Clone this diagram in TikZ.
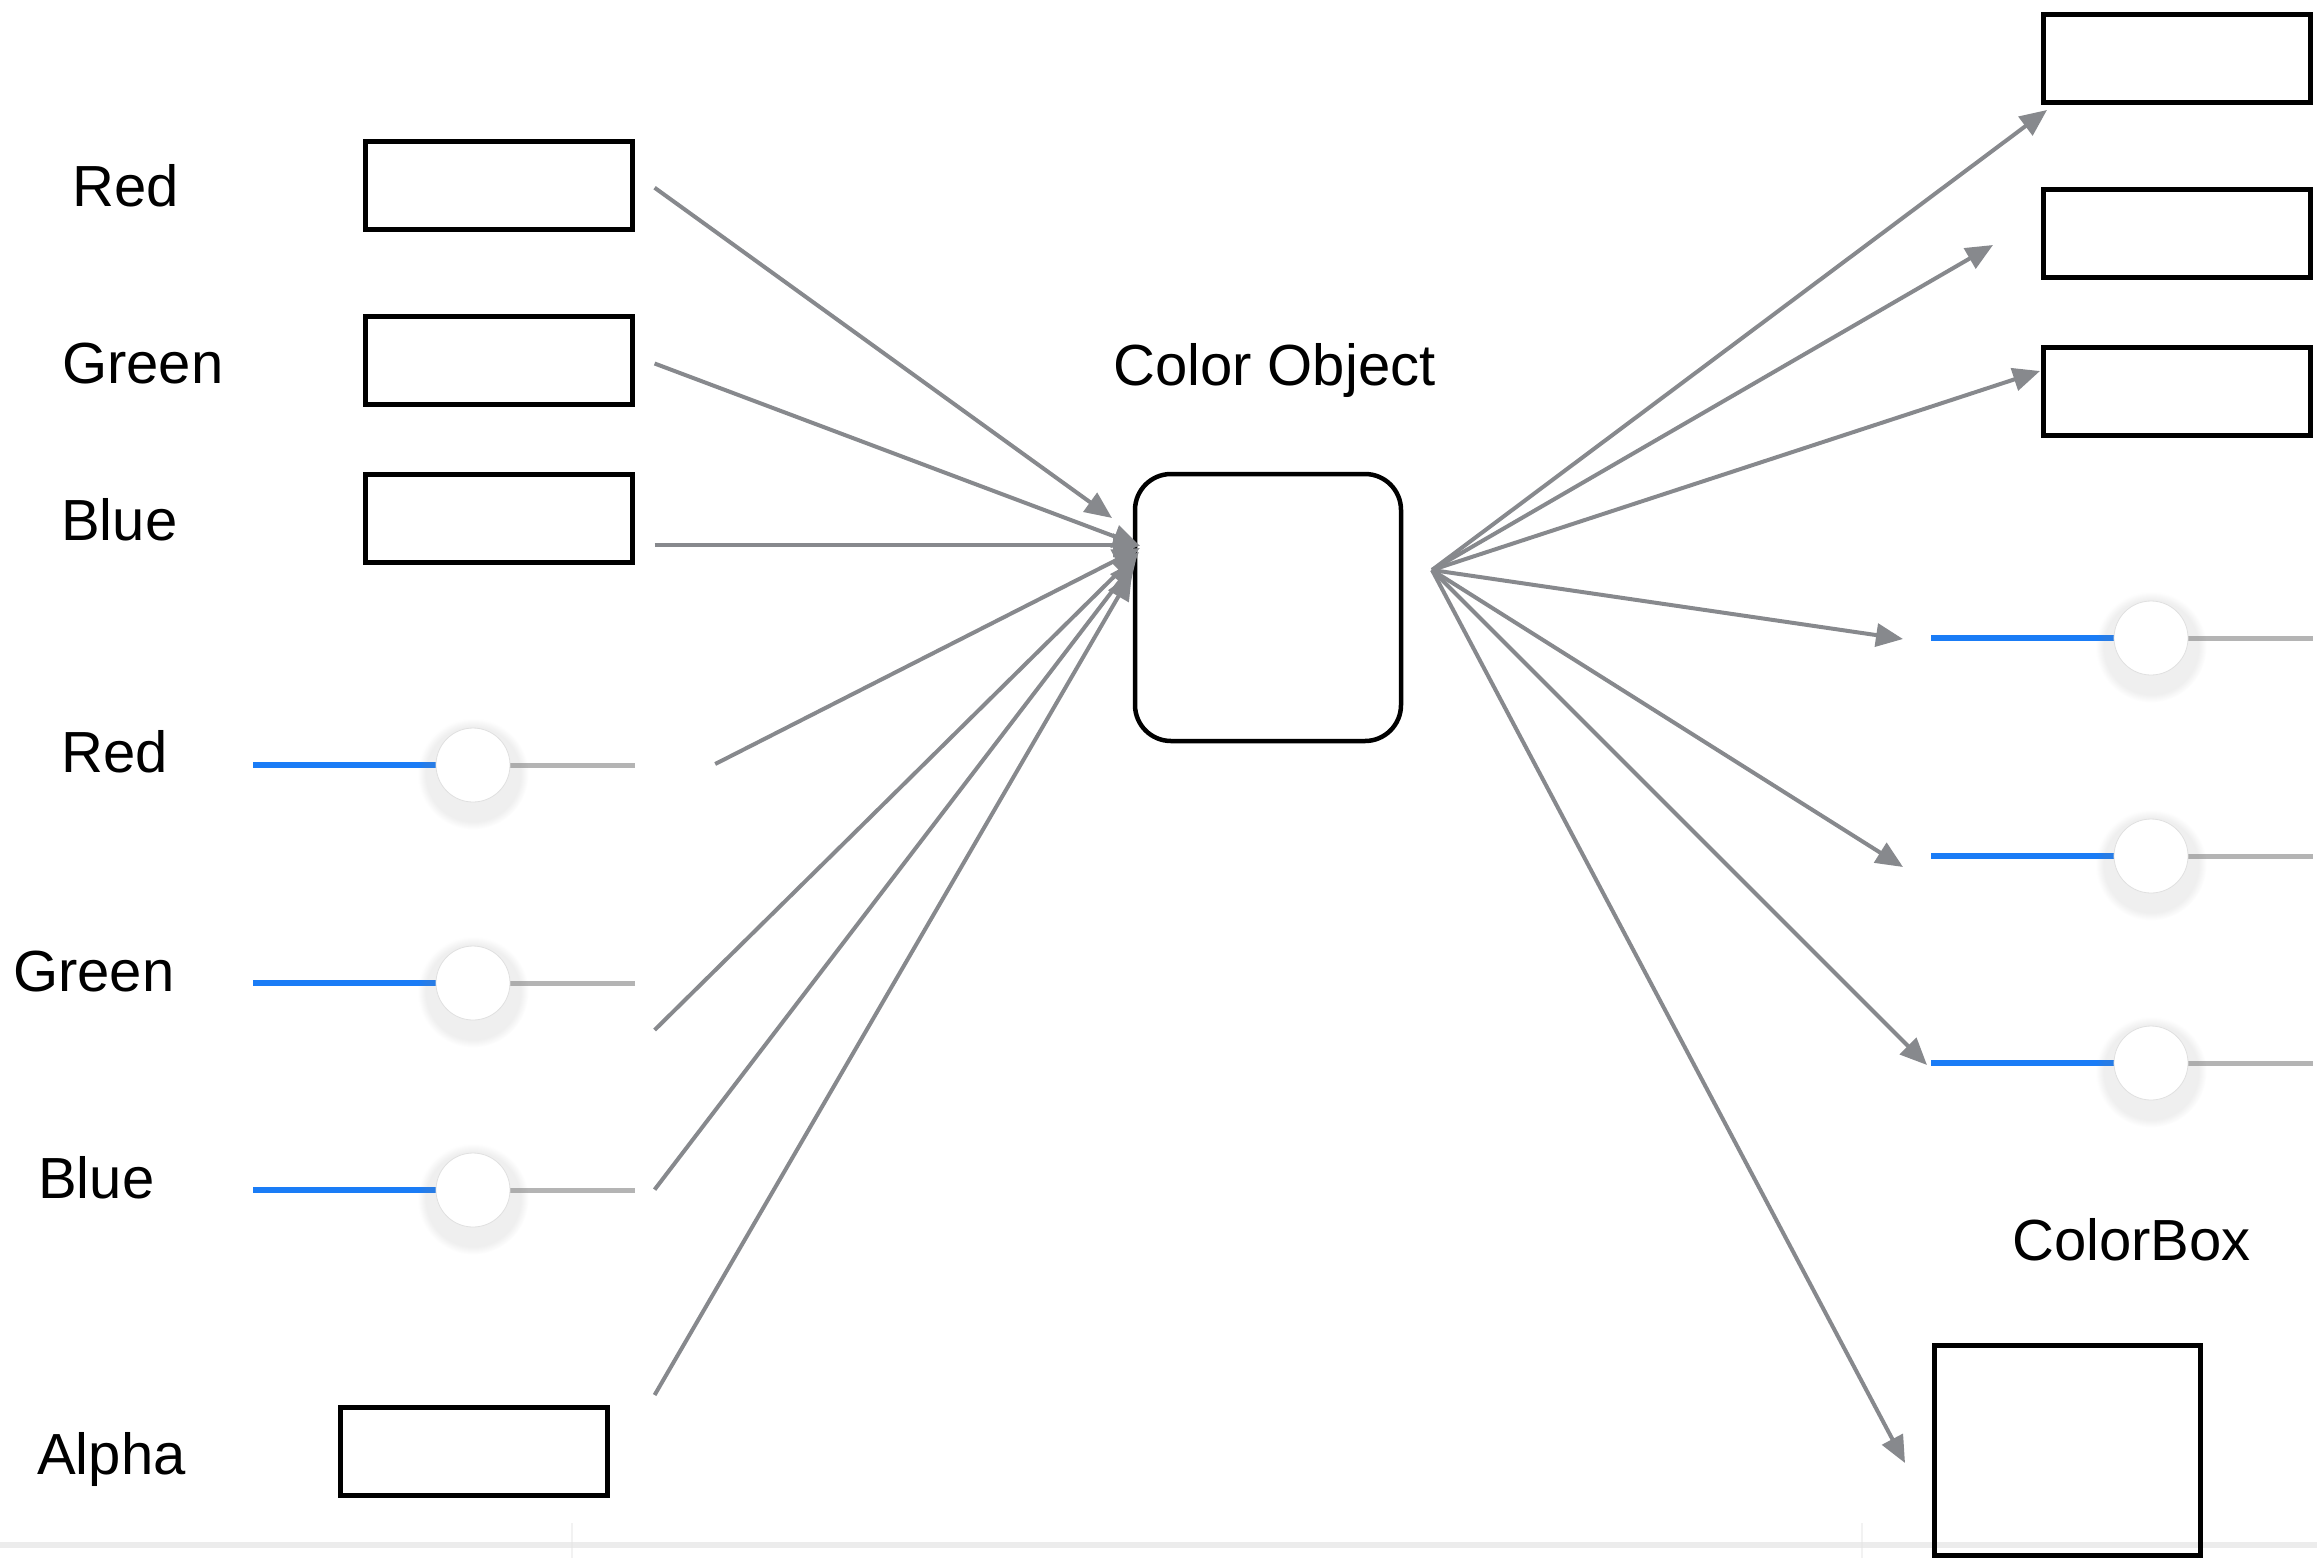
\documentclass[tikz,border=0pt]{standalone}
\usepackage{fontspec}
\setmainfont{Liberation Sans}
\usetikzlibrary{arrows.meta,shadows}

\definecolor{arrowgray}{HTML}{87898D}
\definecolor{trackblue}{HTML}{1A7CF6}
\definecolor{trackgray}{HTML}{B4B4B4}
\definecolor{rulegray}{HTML}{ECECEC}

\tikzset{
  label text/.style={anchor=base west, inner sep=0pt, font=\fontsize{58}{70}\selectfont},
  field/.style={draw=black, line width=5pt, minimum width=267pt, minimum height=88pt, inner sep=0pt},
  objbox/.style={draw=black, line width=4.5pt, minimum width=266pt, minimum height=267pt,
    rounded corners=36pt, inner sep=0pt},
  link/.style={draw=arrowgray, line width=4pt, -{Triangle[length=27pt,width=23pt]}},
  knob/.style={circle, minimum size=74pt, inner sep=0pt, fill=white, draw=black!12, line width=0.8pt,
    circular drop shadow={shadow xshift=0pt, shadow yshift=-6pt, shadow scale=1.5, opacity=0.13}},
  slider/.pic={
    \draw[trackgray, line width=5pt] (200,0) -- (382,0);
    \draw[trackblue, line width=6pt] (0,0) -- (220,0);
    \node[knob] (-knob) at (220,0) {};
  }
}

\begin{document}
\begin{tikzpicture}[x=1pt, y=-1pt]
\useasboundingbox (0,0) rectangle (2317,1558);

% faint baseline rule with two ticks
\draw[rulegray, line width=6pt] (0,1545) -- (2317,1545);
\draw[rulegray!90!black!60, line width=1.5pt, opacity=0.5] (572,1523) -- (572,1558);
\draw[rulegray!90!black!60, line width=1.5pt, opacity=0.5] (1862,1523) -- (1862,1558);

% left column: labels, text fields and sliders
\node[label text] (lr) at (72,206) {Red};
\node[label text] (lg) at (62,383) {Green};
\node[label text] (lb) at (61,540) {Blue};
\node[label text] (sr) at (61,772) {Red};
\node[label text] (sg) at (13,991) {Green};
\node[label text] (sb) at (38,1198) {Blue};
\node[label text] (la) at (37,1474) {Alpha};

\node[field] (fr) at (498.5,185) {};
\node[field] (fg) at (498.5,360.5) {};
\node[field] (fb) at (498.5,518.5) {};
\node[field] (fa) at (474,1451) {};

\pic (slr) at (253,765) {slider};
\pic (slg) at (253,983) {slider};
\pic (slb) at (253,1190) {slider};

% centre object
\node[label text] (cotext) at (1113,385) {Color Object};
\node[objbox] (obj) at (1268,607.5) {};

% right column: output fields, sliders and colour box
\node[field] (or) at (2177,58) {};
\node[field] (og) at (2177,233.5) {};
\node[field] (ob) at (2177,391.5) {};

\pic (srr) at (1931,638) {slider};
\pic (srg) at (1931,856) {slider};
\pic (srb) at (1931,1063) {slider};

\node[label text] (cbtext) at (2012,1260) {ColorBox};
\node[draw=black, line width=5pt, minimum width=266pt, minimum height=210pt, inner sep=0pt] (cbox) at (2067.5,1450.5) {};

% connector ends
\coordinate (a1) at (654.6,187.7);
\coordinate (a2) at (654.6,363.5);
\coordinate (a3) at (654.6,545.3);
\coordinate (a4) at (715.2,764);
\coordinate (a5) at (654.6,1030);
\coordinate (a6) at (654.6,1189.6);
\coordinate (a7) at (654.6,1395);

\coordinate (e1) at (1112,518);
\coordinate (e2) at (1140,546);
\coordinate (e3) at (1140,545.3);
\coordinate (e4) at (1140,548);
\coordinate (e5) at (1139,552);
\coordinate (e6) at (1136,560);
\coordinate (e7) at (1132,573);

\coordinate (hub) at (1432,570);
\coordinate (t1) at (2047,110);
\coordinate (t2) at (1993,245);
\coordinate (t3) at (2040,371);
\coordinate (t4) at (1903,639);
\coordinate (t5) at (1903,867);
\coordinate (t6) at (1927,1065);
\coordinate (t7) at (1905,1463);

% inputs into the colour object
\foreach \i in {1,...,7} \draw[link] (a\i) -- (e\i);

% outputs from the colour object
\foreach \i in {1,...,7} \draw[link] (hub) -- (t\i);

\end{tikzpicture}
\end{document}
